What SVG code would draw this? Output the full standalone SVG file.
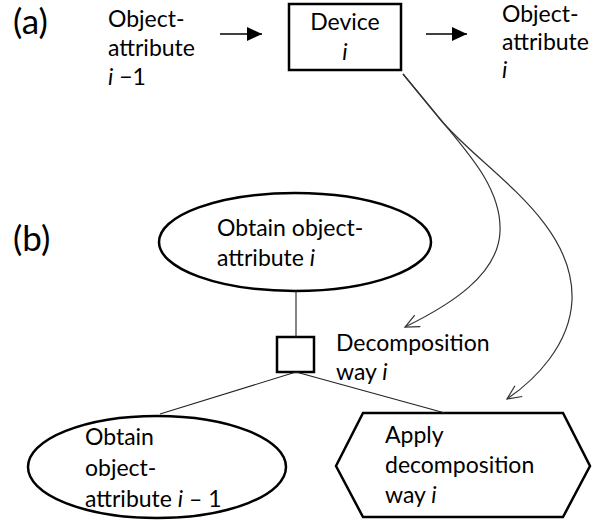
<svg xmlns="http://www.w3.org/2000/svg" width="594" height="525" viewBox="0 0 594 525">
<style>
text{font-family:Lato,"Open Sans","Liberation Sans",sans-serif;font-size:23px;fill:#000}
.lbl{font-size:35px}
.it{font-style:italic}
.shape{fill:#fff;stroke:#000;stroke-width:2.5}
.link{fill:none;stroke:#222;stroke-width:1.1}
.arrow{fill:none;stroke:#000;stroke-width:1.4}
.curve{fill:none;stroke:#333;stroke-width:1.2}
</style>
<defs>
<marker id="solid" markerUnits="userSpaceOnUse" markerWidth="16" markerHeight="16" refX="15" refY="7" orient="auto">
<path d="M0,0 L15,7 L0,14 Z" fill="#000"/>
</marker>
<marker id="open" markerUnits="userSpaceOnUse" markerWidth="18" markerHeight="16" refX="15" refY="7" orient="auto">
<path d="M1,0.5 L15,7 L1,13.5" fill="none" stroke="#333" stroke-width="1.2"/>
</marker>
</defs>
<rect width="594" height="525" fill="#fff"/>
<text class="lbl" x="13" y="34">(a)</text>
<text class="lbl" x="13" y="251">(b)</text>
<g id="oa-prev">
<text x="108" y="27">Object-</text>
<text x="108" y="56">attribute</text>
<text x="108" y="85"><tspan class="it">i</tspan> −1</text>
</g>
<g id="device">
<rect class="shape" x="289" y="4" width="112" height="66"/>
<text x="345" y="30" text-anchor="middle">Device</text>
<text x="345" y="60" text-anchor="middle" class="it">i</text>
</g>
<g id="oa-next">
<text x="502" y="22">Object-</text>
<text x="502" y="50">attribute</text>
<text x="502" y="78" class="it">i</text>
</g>
<g id="obtain-i">
<ellipse class="shape" cx="295" cy="242" rx="136" ry="49"/>
<text x="217" y="236">Obtain object-</text>
<text x="217" y="266">attribute <tspan class="it">i</tspan></text>
</g>
<g id="decomp">
<rect class="shape" x="277" y="337" width="37" height="35"/>
<text x="336" y="351">Decomposition</text>
<text x="336" y="380">way <tspan class="it">i</tspan></text>
</g>
<g id="obtain-prev">
<ellipse class="shape" cx="157" cy="467" rx="129" ry="51"/>
<text x="85" y="445">Obtain</text>
<text x="85" y="476">object-</text>
<text x="85" y="507">attribute <tspan class="it">i</tspan> – 1</text>
</g>
<g id="apply">
<polygon class="shape" points="363,413 563,413 590,466 563,517 363,517 336,466"/>
<text x="385" y="443">Apply</text>
<text x="385" y="473">decomposition</text>
<text x="385" y="503">way <tspan class="it">i</tspan></text>
</g>
<g id="connectors">
<line class="arrow" x1="220" y1="34" x2="262" y2="34" marker-end="url(#solid)"/>
<line class="arrow" x1="426" y1="34" x2="467" y2="34" marker-end="url(#solid)"/>
<line class="link" x1="296" y1="291" x2="296" y2="337"/>
<line class="link" x1="296" y1="372" x2="160" y2="414"/>
<line class="link" x1="296" y1="372" x2="445" y2="413"/>
<path class="curve" d="M403,74 L440,119 C470,155 502,190 500,232 C498,275 450,305 405,327" marker-end="url(#open)"/>
<path class="curve" d="M403,74 L440,119 C480,168 575,220 572,300 C570,345 535,380 507,399" marker-end="url(#open)"/>
</g>
</svg>
